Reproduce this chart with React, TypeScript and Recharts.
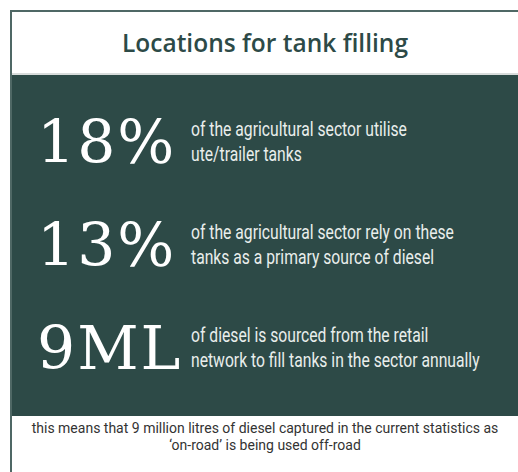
import { BarChart, Bar, XAxis, YAxis } from 'recharts';

const title = 'Locations for tank filling';
const labels = ['ute-trailer', 'primary-source', 'retail-volume'];
const values = [18, 13, 9];
const units = ['%', '%', 'ML'];
const descriptions = [
  ['of the agricultural sector utilise', 'ute/trailer tanks'],
  ['of the agricultural sector rely on these', 'tanks as a primary source of diesel'],
  ['of diesel is sourced from the retail', 'network to fill tanks in the sector annually'],
];
const footnote = [
  'this means that 9 million litres of diesel captured in the current statistics as',
  '\u2018on-road\u2019 is being used off-road',
];

const data = labels.map((label, i) => ({
  label,
  value: values[i],
  unit: units[i],
  lines: descriptions[i],
}));

const DARK = '#2d4a47';
const BORDER = '#4f6865';

const StatShape = (props: any) => {
  const { y, height, payload } = props;
  const base = y + height / 2 + 20;
  return (
    <g>
      <text x={37} y={base} fill="#ffffff" fontFamily="'DejaVu Serif', serif" fontSize={60} letterSpacing={2}>
        {payload.value}
        {payload.unit}
      </text>
      {payload.lines.map((line: string, i: number) => (
        <text
          key={i}
          transform={`translate(191 ${base - 2 - (payload.lines.length - 1 - i) * 25}) scale(0.785 1)`}
          fill="#e9eeec"
          fontFamily="Roboto, sans-serif"
          fontSize={20}
        >
          {line}
        </text>
      ))}
    </g>
  );
};

export default function App() {
  return (
    <div style={{ position: 'absolute', left: 0, top: 0, width: 518, height: 472, background: '#fff', overflow: 'hidden' }}>
      <div style={{ position: 'absolute', left: 10, top: 10, width: 508, height: 2, background: BORDER }} />
      <div style={{ position: 'absolute', left: 10, top: 10, width: 2, height: 462, background: BORDER }} />
      <div style={{ position: 'absolute', left: 12, top: 73, width: 506, height: 2, background: '#d8dcdb' }} />
      <div style={{ position: 'absolute', left: 12, top: 75, width: 506, height: 341, background: DARK }} />
      <div
        style={{
          position: 'absolute',
          left: 12,
          top: 30,
          width: 506,
          textAlign: 'center',
          fontFamily: "'Open Sans', sans-serif",
          fontWeight: 600,
          fontSize: 24.5,
          lineHeight: '26px',
          color: DARK,
        }}
      >
        {title}
      </div>
      <div style={{ position: 'absolute', left: 0, top: 0 }}>
        <BarChart
          width={518}
          height={472}
          data={data}
          layout="vertical"
          barCategoryGap={0}
          margin={{ top: 91, right: 0, bottom: 72, left: 0 }}
        >
          <XAxis type="number" hide domain={[0, 'dataMax']} />
          <YAxis type="category" dataKey="label" hide />
          <Bar dataKey="value" shape={StatShape} isAnimationActive={false} />
        </BarChart>
      </div>
      <div
        style={{
          position: 'absolute',
          left: 12,
          top: 420,
          width: 506,
          textAlign: 'center',
          fontFamily: 'Roboto, sans-serif',
          fontSize: 14,
          lineHeight: '17px',
          color: '#333',
        }}
      >
        {footnote.map((l, i) => (
          <div key={i}>{l}</div>
        ))}
      </div>
    </div>
  );
}
